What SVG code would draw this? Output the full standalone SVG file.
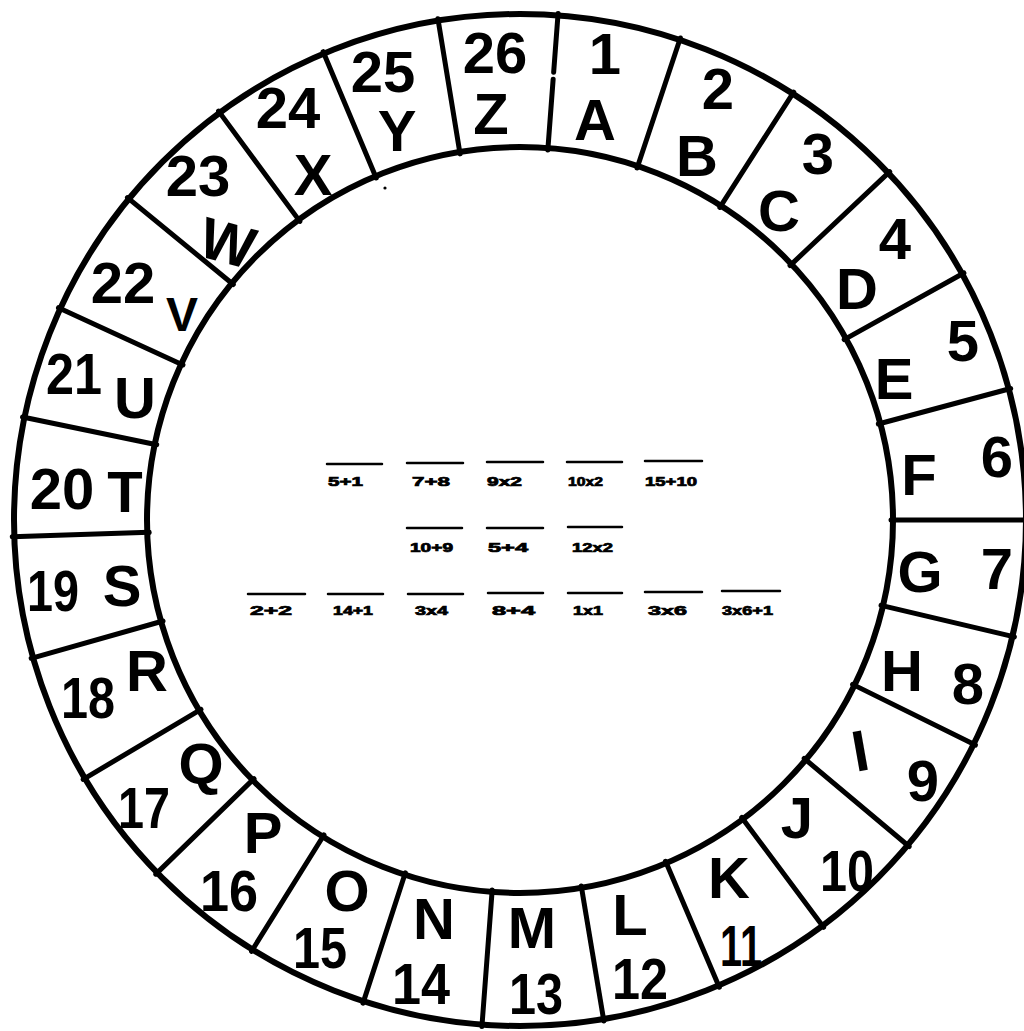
<svg xmlns="http://www.w3.org/2000/svg" width="1024" height="1031" viewBox="0 0 1024 1031">
<style>
.ring{fill:none;stroke:#000;stroke-width:6}
.div line{stroke:#000;stroke-width:5;stroke-linecap:round}
.n,.l{font-family:"Liberation Sans",Arial,sans-serif;font-weight:bold;font-size:58px;text-anchor:middle;fill:#000}
.m{font-family:"Liberation Sans",Arial,sans-serif;font-weight:bold;font-size:12px;fill:#000;stroke:#000;stroke-width:0.7}
.bar{stroke:#000;stroke-width:2.5;stroke-linecap:round}
</style>
<rect width="1024" height="1031" fill="#fff"/>
<g id="wheel">
<circle class="ring" cx="520" cy="520" r="506"/>
<circle class="ring" cx="520" cy="520" r="373"/>
</g>
<g id="connectors" class="div">
<line x1="520" y1="12" x2="520" y2="71" transform="rotate(4.3 520 520)"/>
<line x1="520" y1="78" x2="520" y2="149" transform="rotate(4.3 520 520)"/>
<line x1="520" y1="12" x2="520" y2="149" transform="rotate(18.4 520 520)"/>
<line x1="520" y1="12" x2="520" y2="149" transform="rotate(32.6 520 520)"/>
<line x1="520" y1="12" x2="520" y2="149" transform="rotate(46.7 520 520)"/>
<line x1="520" y1="12" x2="520" y2="149" transform="rotate(60.9 520 520)"/>
<line x1="520" y1="12" x2="520" y2="149" transform="rotate(75 520 520)"/>
<line x1="520" y1="12" x2="520" y2="149" transform="rotate(90 520 520)"/>
<line x1="520" y1="12" x2="520" y2="149" transform="rotate(103.3 520 520)"/>
<line x1="520" y1="12" x2="520" y2="149" transform="rotate(116.3 520 520)"/>
<line x1="520" y1="12" x2="520" y2="149" transform="rotate(130 520 520)"/>
<line x1="520" y1="12" x2="520" y2="149" transform="rotate(143.3 520 520)"/>
<line x1="520" y1="12" x2="520" y2="149" transform="rotate(156.9 520 520)"/>
<line x1="520" y1="12" x2="520" y2="149" transform="rotate(170.5 520 520)"/>
<line x1="520" y1="12" x2="520" y2="149" transform="rotate(184.3 520 520)"/>
<line x1="520" y1="12" x2="520" y2="149" transform="rotate(198 520 520)"/>
<line x1="520" y1="12" x2="520" y2="149" transform="rotate(211.9 520 520)"/>
<line x1="520" y1="12" x2="520" y2="149" transform="rotate(225.8 520 520)"/>
<line x1="520" y1="12" x2="520" y2="149" transform="rotate(239.3 520 520)"/>
<line x1="520" y1="12" x2="520" y2="149" transform="rotate(254.2 520 520)"/>
<line x1="520" y1="12" x2="520" y2="149" transform="rotate(268.1 520 520)"/>
<line x1="520" y1="12" x2="520" y2="149" transform="rotate(281.7 520 520)"/>
<line x1="520" y1="12" x2="520" y2="149" transform="rotate(294.7 520 520)"/>
<line x1="520" y1="12" x2="520" y2="149" transform="rotate(309.4 520 520)"/>
<line x1="520" y1="12" x2="520" y2="149" transform="rotate(323.6 520 520)"/>
<line x1="520" y1="12" x2="520" y2="149" transform="rotate(337.2 520 520)"/>
<line x1="520" y1="12" x2="520" y2="149" transform="rotate(350.7 520 520)"/>
</g>
<g id="cell-A"><text class="n" x="605" y="74">1</text><text class="l" x="595" y="140">A</text></g>
<g id="cell-B"><text class="n" x="718" y="109">2</text><text class="l" x="697" y="176">B</text></g>
<g id="cell-C"><text class="n" x="818" y="174">3</text><text class="l" x="779" y="231">C</text></g>
<g id="cell-D"><text class="n" x="895" y="259">4</text><text class="l" x="857" y="309">D</text></g>
<g id="cell-E"><text class="n" x="963" y="361">5</text><text class="l" x="894" y="399">E</text></g>
<g id="cell-F"><text class="n" x="997" y="477">6</text><text class="l" x="919" y="495">F</text></g>
<g id="cell-G"><text class="n" x="997" y="589">7</text><text class="l" x="920" y="592">G</text></g>
<g id="cell-H"><text class="n" x="968" y="704">8</text><text class="l" x="902" y="691">H</text></g>
<g id="cell-I"><text class="n" x="923" y="801">9</text><text class="l" x="860" y="771" transform="rotate(-10 860 750)">I</text></g>
<g id="cell-J"><text class="n" x="847" y="891" textLength="54" lengthAdjust="spacingAndGlyphs">10</text><text class="l" x="797" y="838">J</text></g>
<g id="cell-K"><text class="n" x="741" y="966" textLength="42" lengthAdjust="spacingAndGlyphs">11</text><text class="l" x="729" y="898">K</text></g>
<g id="cell-L"><text class="n" x="640" y="999" textLength="56" lengthAdjust="spacingAndGlyphs">12</text><text class="l" x="630" y="935">L</text></g>
<g id="cell-M"><text class="n" x="536" y="1014" textLength="54" lengthAdjust="spacingAndGlyphs">13</text><text class="l" x="532" y="948">M</text></g>
<g id="cell-N"><text class="n" x="421" y="1004" textLength="58" lengthAdjust="spacingAndGlyphs">14</text><text class="l" x="434" y="939">N</text></g>
<g id="cell-O"><text class="n" x="320" y="968" textLength="54" lengthAdjust="spacingAndGlyphs">15</text><text class="l" x="347" y="911">O</text></g>
<g id="cell-P"><text class="n" x="229" y="911" textLength="58" lengthAdjust="spacingAndGlyphs">16</text><text class="l" x="263" y="853">P</text></g>
<g id="cell-Q"><text class="n" x="144" y="828" textLength="52" lengthAdjust="spacingAndGlyphs">17</text><text class="l" x="201" y="784">Q</text></g>
<g id="cell-R"><text class="n" x="88" y="718" textLength="54" lengthAdjust="spacingAndGlyphs">18</text><text class="l" x="147" y="691">R</text></g>
<g id="cell-S"><text class="n" x="53" y="611" textLength="52" lengthAdjust="spacingAndGlyphs">19</text><text class="l" x="122" y="606">S</text></g>
<g id="cell-T"><text class="n" x="62" y="509">20</text><text class="l" x="125" y="512">T</text></g>
<g id="cell-U"><text class="n" x="74" y="394" textLength="56" lengthAdjust="spacingAndGlyphs">21</text><text class="l" x="135" y="418">U</text></g>
<g id="cell-V"><text class="n" x="123" y="303">22</text><text class="l" x="182" y="331" style="font-size:48px">V</text></g>
<g id="cell-W"><text class="n" x="198" y="196">23</text><text class="l" x="228" y="263" transform="rotate(15 228 242)">W</text></g>
<g id="cell-X"><text class="n" x="288" y="128">24</text><text class="l" x="313" y="195">X</text></g>
<g id="cell-Y"><text class="n" x="383" y="92">25</text><text class="l" x="397" y="151">Y</text></g>
<g id="cell-Z"><text class="n" x="495" y="73">26</text><text class="l" x="491" y="134">Z</text></g>
<circle cx="385" cy="188" r="1.6" fill="#000"/>
<g id="message">
<line class="bar" x1="327" y1="464" x2="382" y2="464"/><text class="m" x="328" y="486" textLength="35" lengthAdjust="spacingAndGlyphs">5+1</text>
<line class="bar" x1="407" y1="463" x2="463" y2="463"/><text class="m" x="412" y="486" textLength="38" lengthAdjust="spacingAndGlyphs">7+8</text>
<line class="bar" x1="487" y1="462" x2="543" y2="462"/><text class="m" x="487" y="486" textLength="35" lengthAdjust="spacingAndGlyphs">9x2</text>
<line class="bar" x1="567" y1="462" x2="622" y2="462"/><text class="m" x="568" y="486" textLength="35" lengthAdjust="spacingAndGlyphs">10x2</text>
<line class="bar" x1="645" y1="461" x2="702" y2="461"/><text class="m" x="645" y="486" textLength="52" lengthAdjust="spacingAndGlyphs">15+10</text>
<line class="bar" x1="407" y1="528" x2="462" y2="528"/><text class="m" x="410" y="552" textLength="43" lengthAdjust="spacingAndGlyphs">10+9</text>
<line class="bar" x1="487" y1="528" x2="543" y2="528"/><text class="m" x="488" y="552" textLength="40" lengthAdjust="spacingAndGlyphs">5+4</text>
<line class="bar" x1="568" y1="527" x2="622" y2="527"/><text class="m" x="572" y="552" textLength="41" lengthAdjust="spacingAndGlyphs">12x2</text>
<line class="bar" x1="248" y1="594" x2="305" y2="594"/><text class="m" x="250" y="615" textLength="42" lengthAdjust="spacingAndGlyphs">2+2</text>
<line class="bar" x1="328" y1="594" x2="383" y2="594"/><text class="m" x="333" y="615" textLength="40" lengthAdjust="spacingAndGlyphs">14+1</text>
<line class="bar" x1="408" y1="594" x2="463" y2="594"/><text class="m" x="415" y="615" textLength="33" lengthAdjust="spacingAndGlyphs">3x4</text>
<line class="bar" x1="488" y1="593" x2="543" y2="593"/><text class="m" x="492" y="615" textLength="43" lengthAdjust="spacingAndGlyphs">8+4</text>
<line class="bar" x1="568" y1="593" x2="622" y2="593"/><text class="m" x="573" y="615" textLength="30" lengthAdjust="spacingAndGlyphs">1x1</text>
<line class="bar" x1="645" y1="592" x2="702" y2="592"/><text class="m" x="648" y="615" textLength="39" lengthAdjust="spacingAndGlyphs">3x6</text>
<line class="bar" x1="722" y1="591" x2="780" y2="591"/><text class="m" x="722" y="615" textLength="51" lengthAdjust="spacingAndGlyphs">3x6+1</text>
</g>
</svg>
